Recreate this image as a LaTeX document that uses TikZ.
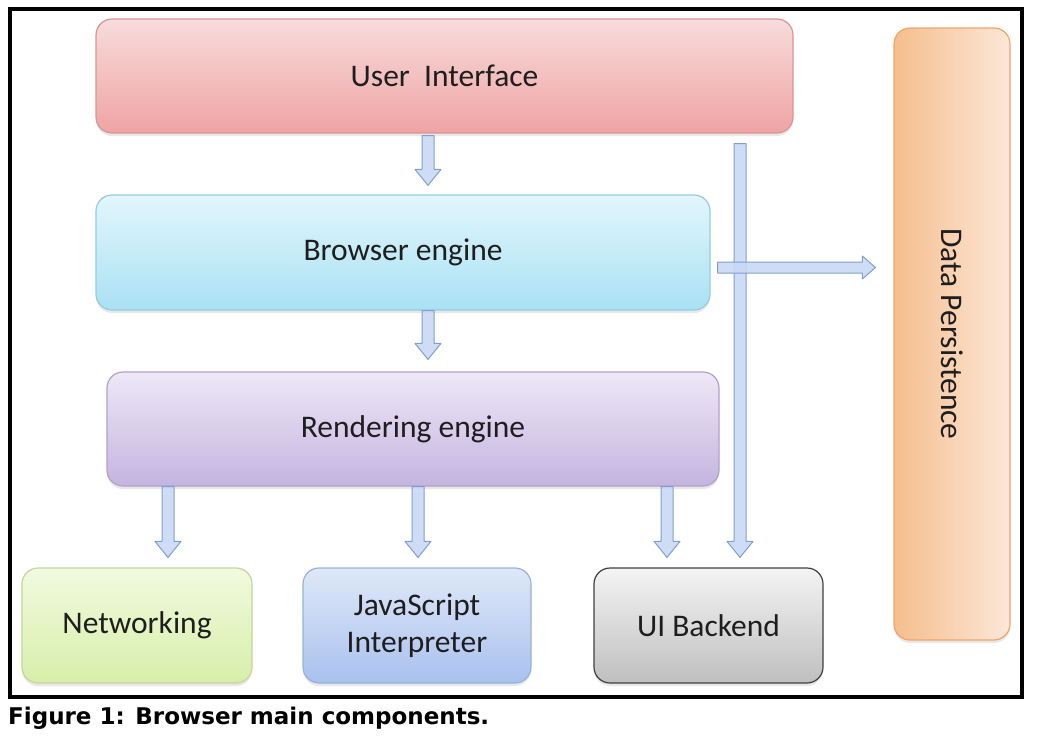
\documentclass[tikz,border=0pt]{standalone}
\usepackage{fontspec}
\setmainfont{Carlito}
\newfontfamily\captionfont{DejaVu Sans}
\usetikzlibrary{calc, shadows}
\definecolor{UiTop}{HTML}{F8DCDC}
\definecolor{UiBottom}{HTML}{EFA3A3}
\definecolor{UiLine}{HTML}{D99594}
\definecolor{BeTop}{HTML}{E2F6FC}
\definecolor{BeBottom}{HTML}{A9E1F4}
\definecolor{BeLine}{HTML}{93CDDD}
\definecolor{ReTop}{HTML}{EEE8F6}
\definecolor{ReBottom}{HTML}{C4B4E0}
\definecolor{ReLine}{HTML}{B2A2C7}
\definecolor{NetTop}{HTML}{F2FADF}
\definecolor{NetBottom}{HTML}{D7EFAA}
\definecolor{NetLine}{HTML}{C3D69B}
\definecolor{JsTop}{HTML}{DFE8F8}
\definecolor{JsBottom}{HTML}{A9C1EE}
\definecolor{JsLine}{HTML}{95B3D7}
\definecolor{UibTop}{HTML}{F4F4F4}
\definecolor{UibBottom}{HTML}{BFBFBF}
\definecolor{UibLine}{HTML}{404040}
\definecolor{DpLeft}{HTML}{F5BE8E}
\definecolor{DpRight}{HTML}{FCE7D8}
\definecolor{DpLine}{HTML}{F2A466}
\definecolor{ArrowFill}{HTML}{C9D8F4}
\definecolor{ArrowLine}{HTML}{7F9FD0}
\definecolor{TextDark}{HTML}{1E1E1E}

% block arrow pointing down: x, from, to, gap at start, gap at end
\newcommand{\downblock}[5]{%
  \draw[blockarrow] let \p1=(#2), \p2=(#3) in
    (#1pt-6pt,\y1-#4pt) -- (#1pt+6pt,\y1-#4pt) -- (#1pt+6pt,\y2+#5pt+16pt)
    -- (#1pt+13pt,\y2+#5pt+16pt) -- (#1pt,\y2+#5pt) -- (#1pt-13pt,\y2+#5pt+16pt)
    -- (#1pt-6pt,\y2+#5pt+16pt) -- cycle;}

\begin{document}
\begin{tikzpicture}[x=1pt, y=-1pt,
    box/.style={rectangle, rounded corners=16pt, line width=1.2pt, align=center,
      text=TextDark, font=\fontsize{31.5}{37}\selectfont,
      drop shadow={shadow xshift=0pt, shadow yshift=-3pt, opacity=0.18}},
    blockarrow/.style={fill=ArrowFill, draw=ArrowLine, line width=1pt, line join=round, fill opacity=0.9}
  ]
  \useasboundingbox (0,0) rectangle (1038,742);
  \draw[line width=4pt] (10,8.5) rectangle (1022,697);

  \node[box, top color=UiTop, bottom color=UiBottom, draw=UiLine, minimum width=697pt, minimum height=114pt] (ui) at (444.5,76) {User\ \ Interface};
  \node[box, top color=BeTop, bottom color=BeBottom, draw=BeLine, minimum width=614pt, minimum height=115pt] (be) at (403,252.5) {Browser engine};
  \node[box, top color=ReTop, bottom color=ReBottom, draw=ReLine, minimum width=612pt, minimum height=114pt] (re) at (413,429) {Rendering engine};
  \node[box, top color=NetTop, bottom color=NetBottom, draw=NetLine, minimum width=230pt, minimum height=115pt] (net) at (137,625.5) {Networking};
  \node[box, top color=JsTop, bottom color=JsBottom, draw=JsLine, minimum width=228pt, minimum height=115pt] (js) at (417,625.5) {JavaScript\\Interpreter};
  \node[box, top color=UibTop, bottom color=UibBottom, draw=UibLine, minimum width=229pt, minimum height=115pt] (uib) at (708.5,625.5) {UI Backend};
  \node[box, left color=DpLeft, right color=DpRight, draw=DpLine, minimum width=116pt, minimum height=612pt] (dp) at (952,334) {};
  \node[rotate=-90, text=TextDark, font=\fontsize{31.5}{37}\selectfont] (dplabel) at (dp.center) {Data Persistence};

  \downblock{428}{ui.south}{be.north}{2}{9}
  \downblock{428}{be.south}{re.north}{0}{12}
  \downblock{168}{re.south}{net.north}{0}{10}
  \downblock{418}{re.south}{js.north}{0}{10}
  \downblock{667}{re.south}{uib.north}{0}{10}
  \downblock{740}{ui.south}{uib.north}{10}{10}
  % to data persistence
  \draw[blockarrow] let \p1=(be.east), \p2=(dp.west) in
    (\x1+7pt,-262pt) -- (\x2-31pt,-262pt) -- (\x2-31pt,-256pt) -- (\x2-18pt,-267.5pt)
    -- (\x2-31pt,-279pt) -- (\x2-31pt,-273pt) -- (\x1+7pt,-273pt) -- cycle;

  \node[anchor=west, font=\captionfont\bfseries\fontsize{23}{27}\selectfont, inner sep=0pt] (caption) at (8,718) {Figure 1: Browser main components.};
\end{tikzpicture}
\end{document}
